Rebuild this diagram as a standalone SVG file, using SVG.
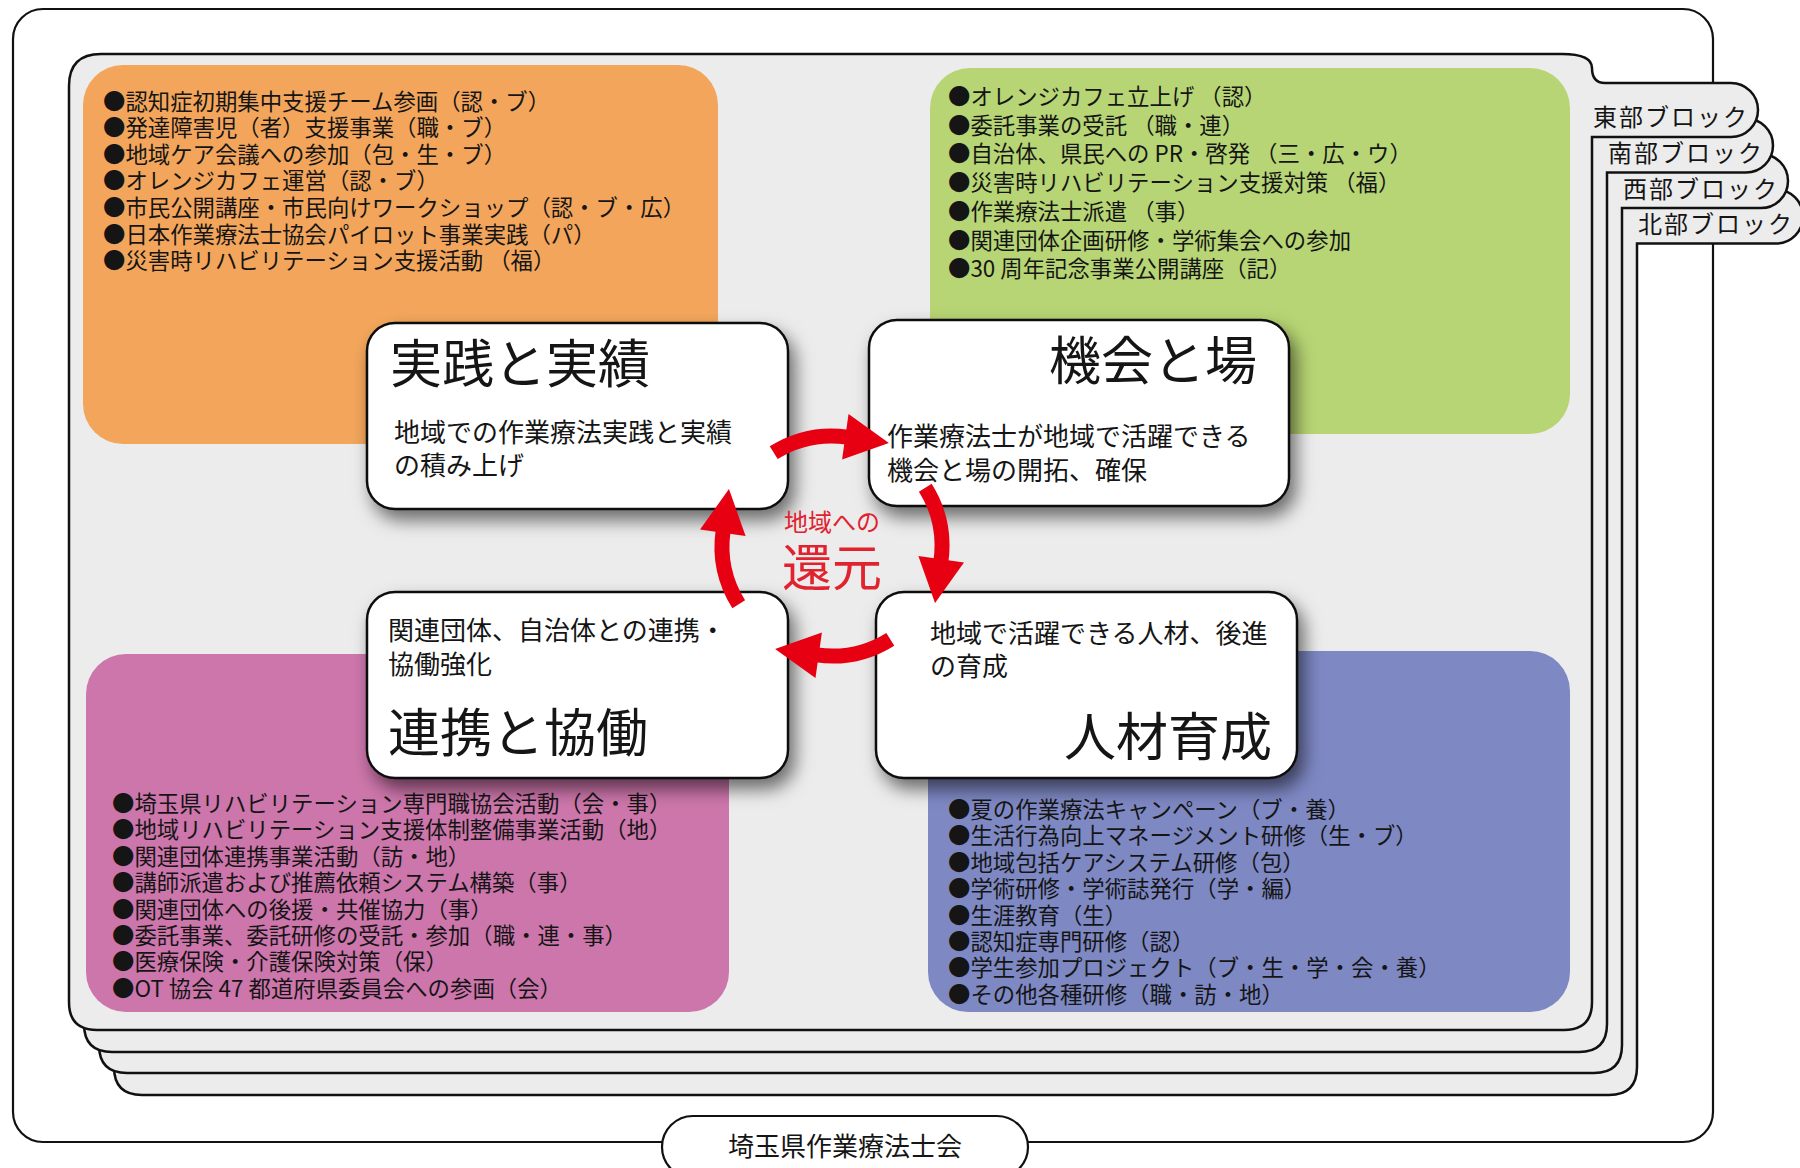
<svg xmlns="http://www.w3.org/2000/svg" width="1800" height="1168" viewBox="0 0 1800 1168">
<defs>
<style>
text{font-family:'Noto Sans CJK JP','Noto Sans',sans-serif;fill:#151515;}
.frame{fill:#fff;stroke:#111;stroke-width:2.2;}
.panel{fill:#ececec;stroke:#111;stroke-width:2.5;}
.tab{font-size:24px;letter-spacing:2px;}
.list{font-size:22.4px;}
.card{fill:#fff;stroke:#111;stroke-width:2.5;filter:url(#shadow);}
.ttl{font-size:52px;}
.body{font-size:26px;}
.arr{fill:none;stroke:#e60012;stroke-width:15;marker-end:url(#ah);}
.red{fill:#e0232e;}
</style>
<filter id="shadow" x="-10%" y="-10%" width="130%" height="140%">
<feDropShadow dx="6" dy="10" stdDeviation="9" flood-color="#000" flood-opacity="0.55"/>
</filter>
<marker id="ah" markerUnits="userSpaceOnUse" markerWidth="50" markerHeight="50" refX="2" refY="23" orient="auto" overflow="visible">
<path d="M0,0 L44,23 L0,46 z" fill="#e60012"/>
</marker>
</defs>

<g id="outer-frame">
<rect class="frame" x="13" y="9" width="1700" height="1133" rx="30"/>
</g>

<g id="block-hokubu">
<path class="panel" d="M146,160.5 L1607,160.5 Q1637,160.5 1637,174.5 Q1637,189.5 1650,189.5 L1776,189.5 A27 27 0 0 1 1776,243.5 L1637,243.5 L1637,1067 Q1637,1095 1609,1095 L142,1095 Q114,1095 114,1067 L114,192.5 Q114,160.5 146,160.5 Z"/>
<text class="tab" x="1638" y="233">北部ブロック</text>
</g>
<g id="block-seibu">
<path class="panel" d="M131,125 L1592,125 Q1622,125 1622,139 Q1622,154 1635,154 L1761,154 A27 27 0 0 1 1761,208 L1622,208 L1622,1045 Q1622,1073 1594,1073 L127,1073 Q99,1073 99,1045 L99,157 Q99,125 131,125 Z"/>
<text class="tab" x="1623" y="197.5">西部ブロック</text>
</g>
<g id="block-nanbu">
<path class="panel" d="M116,89.5 L1577,89.5 Q1607,89.5 1607,103.5 Q1607,118.5 1620,118.5 L1746,118.5 A27 27 0 0 1 1746,172.5 L1607,172.5 L1607,1024 Q1607,1052 1579,1052 L112,1052 Q84,1052 84,1024 L84,121.5 Q84,89.5 116,89.5 Z"/>
<text class="tab" x="1608" y="162">南部ブロック</text>
</g>
<g id="block-toubu">
<path class="panel" d="M101,54 L1562,54 Q1592,54 1592,68 Q1592,83 1605,83 L1731,83 A27 27 0 0 1 1731,137 L1592,137 L1592,1002 Q1592,1030 1564,1030 L97,1030 Q69,1030 69,1002 L69,86 Q69,54 101,54 Z"/>
<text class="tab" x="1593" y="126">東部ブロック</text>
</g>

<g id="list-orange">
<rect x="83" y="65" width="635" height="379" rx="40" fill="#f3a65b"/>
<text class="list" x="103" y="109.5"><tspan x="103" y="109.5">●認知症初期集中支援チーム参画（認・ブ）</tspan><tspan x="103" y="136.1">●発達障害児（者）支援事業（職・ブ）</tspan><tspan x="103" y="162.7">●地域ケア会議への参加（包・生・ブ）</tspan><tspan x="103" y="189.3">●オレンジカフェ運営（認・ブ）</tspan><tspan x="103" y="215.9">●市民公開講座・市民向けワークショップ（認・ブ・広）</tspan><tspan x="103" y="242.5">●日本作業療法士協会パイロット事業実践（パ）</tspan><tspan x="103" y="269.1">●災害時リハビリテーション支援活動 （福）</tspan></text>
</g>

<g id="list-green">
<rect x="930" y="68" width="640" height="366" rx="40" fill="#b7d574"/>
<text class="list" x="948" y="105"><tspan x="948" y="105">●オレンジカフェ立上げ （認）</tspan><tspan x="948" y="133.7">●委託事業の受託 （職・連）</tspan><tspan x="948" y="162.4">●自治体、県民への PR・啓発 （三・広・ウ）</tspan><tspan x="948" y="191.1">●災害時リハビリテーション支援対策 （福）</tspan><tspan x="948" y="219.8">●作業療法士派遣 （事）</tspan><tspan x="948" y="248.5">●関連団体企画研修・学術集会への参加</tspan><tspan x="948" y="277.2">●30 周年記念事業公開講座（記）</tspan></text>
</g>

<g id="list-pink">
<rect x="86" y="654" width="643" height="358" rx="40" fill="#cd76ab"/>
<text class="list" x="112" y="812"><tspan x="112" y="812">●埼玉県リハビリテーション専門職協会活動（会・事）</tspan><tspan x="112" y="838.4">●地域リハビリテーション支援体制整備事業活動（地）</tspan><tspan x="112" y="864.8">●関連団体連携事業活動（訪・地）</tspan><tspan x="112" y="891.2">●講師派遣および推薦依頼システム構築（事）</tspan><tspan x="112" y="917.6">●関連団体への後援・共催協力（事）</tspan><tspan x="112" y="944">●委託事業、委託研修の受託・参加（職・連・事）</tspan><tspan x="112" y="970.4">●医療保険・介護保険対策（保）</tspan><tspan x="112" y="996.8">●OT 協会 47 都道府県委員会への参画（会）</tspan></text>
</g>

<g id="list-blue">
<rect x="928" y="651" width="642" height="361" rx="40" fill="#7e88c3"/>
<text class="list" x="948" y="818"><tspan x="948" y="818">●夏の作業療法キャンペーン（ブ・養）</tspan><tspan x="948" y="844.4">●生活行為向上マネージメント研修（生・ブ）</tspan><tspan x="948" y="870.8">●地域包括ケアシステム研修（包）</tspan><tspan x="948" y="897.2">●学術研修・学術誌発行（学・編）</tspan><tspan x="948" y="923.6">●生涯教育（生）</tspan><tspan x="948" y="950">●認知症専門研修（認）</tspan><tspan x="948" y="976.4">●学生参加プロジェクト（ブ・生・学・会・養）</tspan><tspan x="948" y="1002.8">●その他各種研修（職・訪・地）</tspan></text>
</g>

<g id="card-jissen">
<rect class="card" x="367" y="323" width="421" height="186" rx="28"/>
<text class="ttl" x="390" y="383">実践と実績</text>
<text class="body" x="394" y="442"><tspan x="394" y="442">地域での作業療法実践と実績</tspan><tspan x="394" y="475">の積み上げ</tspan></text>
</g>
<g id="card-kikai">
<rect class="card" x="869" y="320" width="420" height="186" rx="28"/>
<text class="ttl" x="1257" y="380" text-anchor="end">機会と場</text>
<text class="body" x="887" y="446"><tspan x="887" y="446">作業療法士が地域で活躍できる</tspan><tspan x="887" y="480">機会と場の開拓、確保</tspan></text>
</g>
<g id="card-renkei">
<rect class="card" x="367" y="592" width="421" height="186" rx="28"/>
<text class="body" x="388" y="640"><tspan x="388" y="640">関連団体、自治体との連携・</tspan><tspan x="388" y="673.5">協働強化</tspan></text>
<text class="ttl" x="388" y="752">連携と協働</text>
</g>
<g id="card-jinzai">
<rect class="card" x="876" y="592" width="421" height="186" rx="28"/>
<text class="body" x="930" y="642.5"><tspan x="930" y="642.5">地域で活躍できる人材、後進</tspan><tspan x="930" y="676">の育成</tspan></text>
<text class="ttl" x="1272" y="756" text-anchor="end">人材育成</text>
</g>

<g id="connectors">
<path class="arr" d="M773.7,452.7 A110 110 0 0 1 847.3,437.1"/>
<path class="arr" d="M925.3,487.7 A110 110 0 0 1 940.9,561.3"/>
<path class="arr" d="M890.3,639.3 A110 110 0 0 1 816.7,654.9"/>
<path class="arr" d="M738.7,604.3 A110 110 0 0 1 723.1,530.7"/>
</g>

<g id="center-label">
<text class="red" text-anchor="middle"><tspan x="832" y="531" font-size="24">地域への</tspan><tspan x="832" y="586" font-size="50">還元</tspan></text>
</g>

<g id="org-label">
<rect class="frame" x="662" y="1116" width="366" height="62" rx="31"/>
<text x="845" y="1156" font-size="26" text-anchor="middle">埼玉県作業療法士会</text>
</g>
</svg>
